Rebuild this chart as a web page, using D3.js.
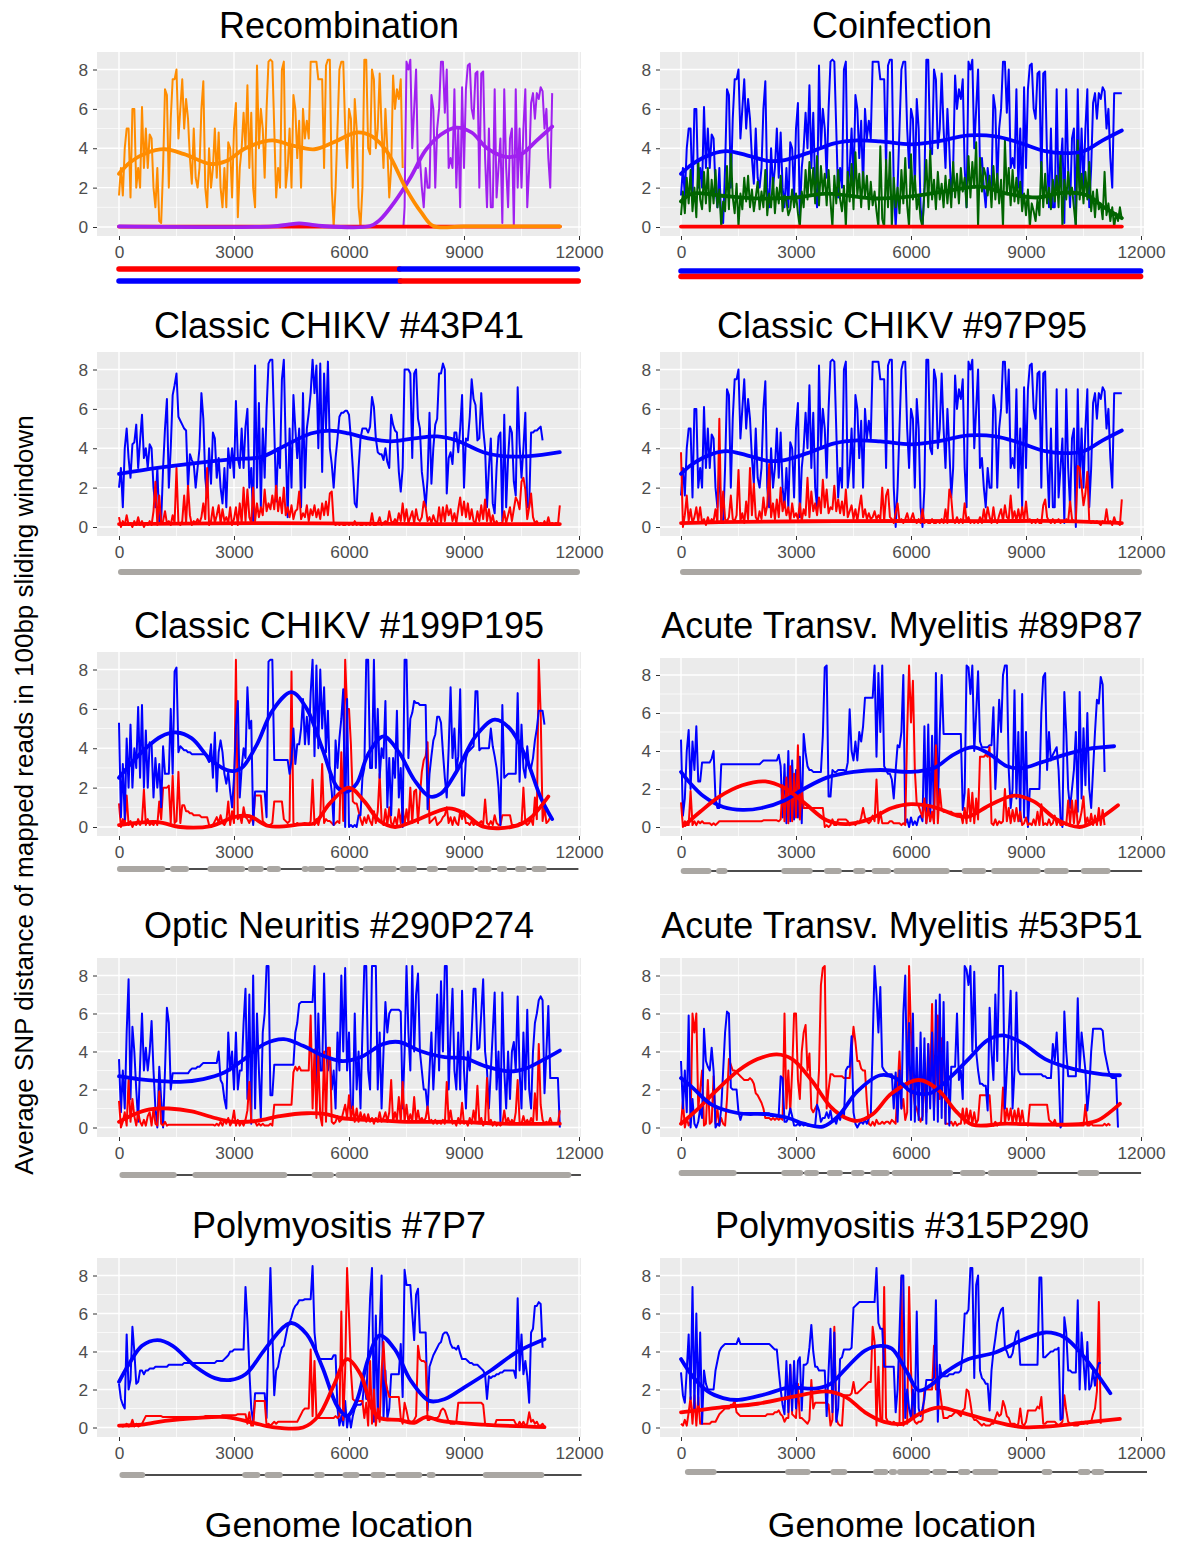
<!DOCTYPE html>
<html>
<head>
<meta charset="utf-8">
<script src="https://cdn.jsdelivr.net/npm/d3@7"></script>
<style>
body { margin: 0; background: #fff; }
text { font-family: "Liberation Sans", Arial, sans-serif; }
</style>
</head>
<body>
<div id="chart"></div>
<script>
// every trace: one row per 1000 bp of genome, one value per 50 bp
const refBlue = [
[1.6,3,1.6,4,5,5,1.5,6,6,2,3,2,6.1,3,5,3,4.7,4.5,2,1],
[3,.3,.2,3,7,6.7,2,5.5,7.5,7.5,8,4.5,6,7.5,5,6.5,5.5,3.5,2.2,5],
[2.5,2,3,6,7.4,2,1,4,2,3,5,2.5,4.8,2,1,3,1,4.3,4,1.5],
[5,6.3,.5,3,4,5.8,4,7.2,3,5.8,2,1,8.2,4,6,5,2.5,6,8.4,8.5],
[8.4,5,1.5,3,2,8,8.4,2,3,5,2,6.7,6,3.5,5.4,2,6,4.5,5.4,4.5],
[8.4,8.4,8.4,8.4,7.5,7.5,7.5,3,8.2,8.5,8.5,2,0,2,5,8,8.4,8.4,5,3],
[6,5.5,2,6.5,5,1,0,2,8.5,8.5,4,3.7,8,7.5,4,5,7.8,5,3,6],
[4,1.5,3,7.7,6,7,6.5,7.5,3,1,8.4,8,8.5,4,6,8,3,3.5,2,1],
[3,2,2,6.7,6,2,5,6,8.4,8.4,5.8,8,3,3.5,3,7,2,5,1,7.1],
[3,7,8.2,8.3,6,5.5,7.8,7.9,2,7.8,7.9,3.5,1,5,1,1,7,1.5,3,4.5],
[.2,7,3,1,4.5,5,0,7,2,5,2,5,7,1,3,6.3,6.8,5.5,6.8,6.5],
[7.1,6.9,5,6,3.5,2,6.8,6.8,6.8,6.8,6.8]
];
const coinfGreen = [
[.6,1.8,.7,2.5,1.2,2.9,.8,2,.5,3.4,1.4,.9,2.8,1.2,3,.8,2.4,1.2,2.9,1],
[1.9,0,1.3,.8,3.1,.9,3.9,1.5,.7,2.2,0,1.7,.9,2.5,1.3,2.6,1,1.9,.8,1.5],
[2.3,.9,1.8,1,2.9,.6,1.7,1,2.5,.7,2,1.2,2.6,.8,1.6,1.3,.6,.9,1.9,1],
[1.7,.7,0,1.8,1,2.9,1.4,3.3,1.6,3,1.2,3.6,1.1,3.1,1.8,2.7,1.1,2.9,1.3,0],
[2.6,1.2,2.9,1.4,.8,2.1,0,2.8,1.3,3.2,.9,3.8,1.6,2.7,1,2.8,1.5,2.6,.9,2.3],
[1.1,1.8,.8,0,4.1,.4,0,3.4,1,3.8,0,2.5,1,2,.7,2.9,1.2,3.5,1.1,0],
[3.7,1.4,2.6,.9,1.6,.4,0,1.8,3.4,1,3.9,1.4,2.4,.9,2.8,1.4,2.2,1,2.6,1.2],
[2.4,1,3.3,1.5,2.7,1.2,3,1.8,2.5,1,3.6,1.5,3.3,2,4.3,0,3.5,1.8,3,2.6],
[1.6,2.6,1,3.1,1.4,2.7,1.2,2.4,0,4.4,1.7,3,1.1,2.9,1.3,2.5,1.2,2.3,.8,1.7],
[.6,1.9,0,1.2,.8,.3,1.4,.6,3.3,1,2.7,1.2,2,.9,2.4,1.3,2.6,1,3.7,0],
[2.4,1.4,2.8,1.6,2,1,0,4.4,1.4,2.7,1.2,2.8,1.4,3.3,.8,1.8,.5,1.9,.9,1.2],
[.4,2.8,.6,1.2,.3,1,0,.7,.3,1,.4]
];
const blue43 = [
[2,3,1,4,5,3.5,2.5,4.2,4.3,5.2,3,4.4,5.7,3.5,4,3,4.2,4,2,1],
[3,.2,.3,3,5,6.5,2,4,6.7,7.2,7.8,5.6,5.4,5.2,5,4.9,2,3.7,3.4,3.2],
[2,3,4,6.8,5.5,2.5,1.5,4,2.2,4.8,4.5,2.5,3.5,2,1.2,3,1,4,3,4],
[2.5,6.4,3.5,3,5,3,5.1,6,2,3,.2,8.2,2,6.3,1,5,2.5,6,8.3,8.5],
[8.5,5,1.3,4,3,7.5,8.5,4,.5,5,2,6.7,5,3.5,5,1,6.8,2,5,5.8],
[6.8,8.5,6.8,8.2,4,8.3,2.8,7.8,5,8.4,4,3.2,2,3.5,4.5,5.6,5.8,5.8,5.9,5.9],
[5.7,4.5,3,1.2,1,3,4.5,5,5,5,4.8,5.1,6.6,6.1,4.5,3.8,3.7,3.7,3.4,4],
[3.3,3,5.7,5.2,4.9,4.8,2.8,1.8,3,8,8,8,7.8,3.5,7.8,8,5.5,5,2.8,2],
[1,2.5,5.8,2.2,4,5.2,5.5,7.8,7.8,8.3,8,1.7,3.5,3.8,3.2,4.8,4.8,3.8,5,6.7],
[2,4.5,4.4,5.6,7.5,6.5,6.2,4.4,4.5,6.8,5,4,1,3,4.5,1.2,.7,3,4.6,4.8],
[.3,5.7,1,3.5,5.1,4.8,2.3,1.6,7.1,4.2,2.5,4,5.8,1,1,4.8,4.8,4.9,4.9,5],
[5.1,4.4]
];
const red43 = [
[.5,0,.3,.1,.6,.1,.2,0,.3,.1,.5,.1,.3,0,.2,.1,.3,.1,.8,2.3],
[.1,1.6,.2,.3,.8,.2,.3,.1,.6,.2,3,.2,.1,.3,1.6,.2,2.1,.6,.1,.3],
[.2,.4,.2,.5,1.2,.4,3,.1,.3,1,.2,.6,1.1,.2,.9,.3,.5,.2,1,.1],
[.4,1,.1,1.2,.2,2,.3,1.9,.5,.2,2,.3,1.2,.5,1,.6,1.9,.8,1.2,.9],
[1.6,.9,2.1,.8,1.5,.7,2,.6,1,.5,1.1,.4,.8,.9,1.8,.4,.7,.5,1.1,.3],
[.9,.6,1.1,.5,.9,.4,1.2,.6,1.3,.6,1.7,1.8,.2,.1,.2,.1,.2,.1,.1,.2],
[.1,.2,.1,.3,.1,.2,.1,.1,.2,.1,.2,.1,.7,.1,.1,.2,.5,.1,.2,.3],
[.2,.8,.3,.2,.4,.2,.7,.3,1.2,.3,.9,.2,.5,.8,.2,.9,.4,.3,.5,1.3],
[1,.3,.5,.2,.6,.3,.2,1,.2,1,.3,1.1,.6,.9,.3,.7,.2,.9,1.5,.6],
[1.3,.5,1.2,.4,.9,.3,.2,.8,.3,1.1,.4,1.4,.3,.9,.2,.6,.1,.3,.1,.2],
[.2,.8,.2,.6,1,.3,.9,1.5,1.3,.9,2.3,2.5,1.9,.4,1,1.7,.5,.2,.3,.1],
[.2,.1,.3,.1,.5,.1,.2,.1,.2,.1,1.1]
];
const red97 = [
[3.8,0,.6,1.6,.3,.9,.2,.5,1,.3,1,.2,.4,.1,.5,.2,.4,.3,.9,.2],
[5.5,.2,1.8,.4,.3,.5,1.6,.4,.3,.6,2.9,.3,.7,.2,1.3,.4,3,.6,2.2,.5],
[.3,.8,.4,1.5,.6,1.1,3.2,.5,1.2,.4,1.4,.5,2,.8,1.3,.6,1,.3,1.2,.5],
[.7,.4,1.2,.3,.9,.6,2.5,.5,1.8,.8,1.2,.6,1.5,.7,2.4,1,1.9,.7,1,.9],
[2.1,.8,1.4,.7,1.3,.6,1.9,.5,.8,1.1,.4,.9,.3,1,1.6,.5,.9,.4,.7,.4],
[.5,.8,.4,.6,.4,2,.3,1.6,1.9,.5,.4,.2,.7,1.2,.3,.4,.2,.4,.7,.3],
[.4,.7,.3,.2,.4,.2,.9,.2,.3,.2,.2,.4,.2,.2,.3,.2,.4,.2,.9,.2],
[1.9,1.5,.3,.2,.5,.2,.4,.2,1.2,.3,.5,.2,.3,.2,.3,.2,.5,.2,.9,.3],
[1,.5,.2,1,.3,.2,.6,.9,.3,1.1,.5,.4,1.6,.4,.8,.3,.9,.3,1,.3],
[1.3,.3,.4,.2,.3,.2,.4,.2,.2,1.1,1.4,.5,.3,.2,.4,.2,.3,.4,.2,.3],
[.3,.4,.3,1.3,.4,.3,.3,3.1,3,2.1,1.1,1.7,2.8,.3,.2,.3,.2,.3,.2,.1],
[.3,.2,.9,.2,.3,.1,.5,.2,.2,.1,1.4]
];
const blue199 = [
[5.3,.5,3.2,.4,4.5,2,5.2,2,4,3,6.1,2.5,6.2,2,4.9,2,4.3,4.2,1.5,3.5],
[2,3.2,1,4.1,2.7,2.7,2.7,6,2.7,7.9,8.1,3.8,4.1,4,3.9,3.9,3.8,3.8,3.7,3.7],
[3.7,3.7,3.7,3.7,3.7,3.7,3.5,3.3,4.2,2.5,4.8,1.8,3.8,4.4,3.8,2.7,2.2,2.8,1.8,1],
[2.5,5.1,6.4,1.5,3,4,3.5,7.1,5,5.4,.1,1.8,1.8,1.8,1.8,1.8,1.8,.5,8.4,8.5],
[8.5,3.4,3.4,3.4,3.4,3.4,3.4,3.4,3.4,2.7,3.4,5,3.2,4.2,4.2,5,6.5,4.2,5.6,4.2],
[6.8,8.5,3.6,8.2,4,8,5,7.1,3.8,5.9,2.6,1.8,.1,4.4,3,4.5,5.5,7,0,6.5],
[0,.1,0,.1,0,.6,.6,2.5,3,8.5,8.5,3,3,8.5,3,6,2.5,4,3.5,6.4],
[1,3.5,.6,3.5,2.5,5.9,1.5,3,0,8.5,8.5,3.5,5.5,5.8,6.4,6.3,6.3,6.2,6.2,6.2],
[6.2,.9,2.7,3.6,4.4,4.7,5.6,5.6,5.3,3.8,2.5,1.5,4,7.1,3.5,5,2.8,3.6,7,1.6],
[1.6,3.5,3.8,3.9,4,4.1,6.9,6.9,3.9,4,4,4,4,4,5,4.1,3.6,3,2,.1],
[6.2,2.5,2.6,2.7,2.7,2.7,2.7,2.7,6.8,2.3,5.2,3,2.5,4.1,3,3,3.5,4.4,5,5.9],
[5.9,5.9,5.2]
];
const red199 = [
[1.2,0,.4,.1,1.6,.1,.3,0,.2,.1,.4,.1,.3,1.9,.1,.4,.1,.2,.1,.3],
[.1,1.3,.4,2,2,2,2.1,.2,2.6,.2,.3,2.8,.2,1.1,1.1,.8,.8,.7,.7,.6],
[.6,.6,.6,.5,.5,.5,.5,.1,0,.1,.3,.5,.2,.6,.2,.1,.3,1.3,.1,.8],
[.2,8.5,.4,.6,.2,1,.5,.4,.2,.5,.2,1.6,1.6,1.6,1.6,.3,.2,.1,.1,.1],
[.2,1.3,1.3,1.3,1.3,1.3,.4,.3,.2,.3,7.9,.2,.1,.2,.1,.1,.1,.1,.1,.1],
[.3,2.4,.1,.4,.1,.5,3.2,.2,.4,.3,.3,.2,.1,.2,.3,.2,3.8,.3,8.5,6],
[6,4.2,1.3,1.2,1.2,.8,.4,.1,.5,.2,.6,.3,.1,.8,.2,.8,2.7,.3,.1,.9],
[.1,1,.2,.1,.5,.1,.9,.2,1,.1,.9,.2,2,.2,1.8,1.9,.2,1.6,2.8,3.4],
[3.6,4.3,.2,.3,.4,.5,.1,.2,.3,.5,.6,1,.2,.5,.1,.5,.2,.1,.8,.4],
[.8,.2,.2,.1,.3,.1,.2,.1,.2,.3,.1,1.4,.2,.1,.3,.1,.6,.2,.1,.1],
[.6,.6,.6,.6,.6,.1,.1,.1,.1,.2,.1,2,.2,.1,.2,.4,.1,1.5,.4,8.5],
[5.8,.3,1,.2,.3,.5,.4]
];
const blue89 = [
[4.6,.6,1.5,4,5.1,2,4.5,3,5.3,2.4,2.4,3.4,3.4,3.4,3.4,3.4,3.6,4,1.5,1],
[1,3.3,3.3,3.3,3.3,3.3,3.3,3.3,3.3,3.3,3.3,3.3,3.3,3.3,3.3,3.3,3.3,3.3,3.3,3.3],
[3.3,3.3,3.4,3.5,3.5,3.5,3.5,3.5,3.5,3.5,3.5,3.8,3.2,.5,3.3,.2,4,.3,3.5,.4],
[3,.5,3.7,.2,4.9,3.9,3.2,3,3,2.9,2.9,2.9,2.9,2.9,4.8,8.4,8.5,1.6,1.6,3],
[2.9,2.9,3,3,3,3,2.9,3.4,6.2,4,3.5,4.5,3.5,5,4.5,5.3,6.8,6.8,6.8,6.8],
[6.8,8.5,3.7,8.1,5,8.5,3.2,3,2.8,2.8,2.5,1.5,3,4.3,4.2,5,8,.2,.4,0],
[.5,.1,.3,.1,.5,.6,.3,5.3,.2,5.4,.3,4.8,.2,8.1,1,4.9,8,4.9,4.9,4.9],
[4.9,4.9,4.9,4.9,4.9,4.9,4.9,.9,1.8,8.5,8.4,7,8.5,4,6,8.2,4.5,4.2,4.2,4.2],
[4.2,4.3,4.3,6.3,2,4,6.7,5,8,8.5,8.5,3,1,2,7.2,1.5,5,.3,7,.5],
[5,0,2,2,2,2,2,2,6,7.9,8.1,3,5,3.5,3.8,4,4.2,3,.5,0],
[7.1,5,2,1,2,3,5,.8,7.1,1.5,5.2,2.2,6,2,1,3,5,6.7,6.5,7.9],
[7.5,2.9]
];
const red89 = [
[1.3,0,.3,.1,.1,1.9,.1,.3,.1,.3,.2,.3,.2,.2,.2,.2,.1,.2,.1,.2],
[.3,.3,.3,.3,.3,.3,.3,.3,.3,.3,.3,.3,.3,.3,.3,.3,.3,.3,.3,.3],
[.3,.3,.3,.35,.35,.35,.35,.35,.35,.35,.35,.3,.4,2.2,.3,2.6,.2,3.2,.3,2.8],
[.5,4.3,.4,2,1,1,1,1,1,1,1,1,1,1,1,0,.1,0,.1,.4],
[.1,.1,.4,.4,.4,.4,.4,.3,.1,.2,.2,.1,.3,.2,.5,1,.5,.3,.2,.3],
[.6,.3,2.5,.2,.8,.2,.2,.2,.2,.3,.3,.2,.2,.2,.2,.1,.2,.1,5,8.5],
[5.5,7.7,3,1.2,1.1,.8,.5,1.5,.2,1,.3,.8,.2,4.3,.2,2,.9,.8,.8,.8],
[.8,.8,.7,.7,.7,.7,.7,.2,1,.2,2,.3,1.8,.2,1.5,.4,3.7,3.7,3.7,3.8],
[3.7,4.2,.2,.1,.4,.1,.3,.2,.3,2,.3,1,.2,.9,.3,1,.3,.8,.1,.2],
[.5,.1,.2,.1,.4,.1,.8,.1,1.2,.1,.2,.1,.4,.1,.2,.6,.1,.4,.1,.1],
[.2,.1,1.4,.2,1.4,.2,1.4,.1,.3,.8,1.6,.1,.5,.1,.7,.1,.6,.1,1,.1],
[.9,.1]
];
const blue290 = [
[3.6,.8,3,1,5,7.8,1.5,5.3,4,2,.3,3.3,6,3,4.2,3,4,5.6,3,1],
[0,3.2,1.5,0,3,6.3,5.5,2,2.85,2.85,2.85,2.85,2.85,2.85,2.85,2.85,2.85,3,3.1,3.1],
[3.1,3.2,3.2,3.3,3.4,3.4,3.4,3.4,3.4,3.4,3.4,3.4,4,2.5,2.3,1.5,1,5,3,4],
[2,5,2,3,3,5.5,7.3,1.5,7,.2,8,1,6,3,.5,5,6,8.5,8.5,1.7],
[1.7,3.3,3.3,3.3,3.3,3.3,3.3,3.3,3.3,3.3,3.3,3.3,5,5.5,6.5,6.6,6.6,6.6,6.6,6.6],
[6.6,6.6,8.5,2,6,3,3,8.1,4,3,4,2,3,1,5,3,8,4,8.4,3],
[5,1,1,6,2,4,1,5,8.5,8.5,3,2,8.5,8.5,8.5,2,5,1,4,6.6],
[5,6,6.2,6.2,6.2,6.2,6.2,6.1,1,4,8.5,5,3,8.5,4,7,8.1,4,3,2],
[2,.9,3,5,2,4,7,3,7.7,4,8.5,8.5,2,5,7.3,3,2,5,2,7.2],
[3,1,4,3,5,7.3,7.3,4.1,4.2,6,7.8,4,3,1,3,5,7.1,2,4,.3],
[7.1,3,1,4,1.5,4,4.5,3,6.9,3,1,5,2,6.2,2,1,4,5.5,6,6.7],
[6.9,6.7,1.8,4,6.4,2.6,2.6,2.6,2.6,2.6,0]
];
const red290 = [
[1.4,0,.3,.8,.1,2.5,.3,1.5,.6,.1,.8,.3,.1,.4,.1,.6,.8,.1,1,.2],
[.1,1.9,.2,.1,.3,.1,.15,.15,.15,.15,.15,.15,.15,.15,.15,.15,.15,.15,.15,.15],
[.15,.15,.15,.15,.15,.15,.15,.15,.15,.15,.1,.2,.1,.3,.1,.4,.2,.5,.1,.3],
[.9,.1,.4,.1,.3,.1,.4,.9,2.4,.3,.3,.3,.1,.2,.1,.2,.1,.1,.1,.2],
[.1,1.2,1.2,1.2,1.2,1.2,1.2,1.2,1.2,1.2,1.2,2.9,3.2,3,3.2,3,3,3,3,3],
[5.9,1,4.1,.5,3.8,.6,.1,4,.3,4.2,4.2,.3,.2,.3,.6,.3,.4,.8,1.2,.5],
[1.7,.4,1.1,.3,1,.3,.8,.4,.7,.3,.7,.3,.5,.2,.5,.3,.8,.3,.5,.8],
[.3,.8,2.5,.3,.8,.4,1.6,.3,2.4,.3,1.2,.3,.7,.3,1.6,.3,.9,.3,.5,.3],
[.5,1.1,.3,.4,.2,.4,.2,.3,.2,.4,.2,2.4,.3,.9,.2,.3,.1,.5,.2,1.3],
[.2,.3,.1,.5,.2,.9,.3,2.2,.3,.5,.1,.3,2.6,.2,.4,.1,.3,.1,.2,.1],
[.2,.9,.2,.5,.2,.4,.2,.8,2.5,.3,.2,.6,.2,.4,.2,.5,.2,1.8,.4,4.4],
[1.2,.4,.2,.3,.2,.5,.2,.2,.2,.2,.9]
];
const blue53 = [
[3.5,1,3,.8,5.9,0,1.5,.2,0,.3,1,.5,5.2,3.5,3.2,3,4.2,3,0,.2],
[.1,1,3,5,6.1,6,2.1,2,2,2,.8,.4,.75,.75,.75,.75,.75,.75,.75,.75],
[.75,.75,.75,.75,.75,.75,.75,.6,.6,.6,.6,.7,2.7,2.6,.3,.3,.5,1,.6,.1],
[.1,.2,.1,.2,.1,.2,.1,.1,.1,.1,.1,1.2,.9,.3,.5,.5,.8,.5,.9,.3],
[.4,.2,.6,.4,.8,.5,3,3.2,3.2,4.8,.8,.2,0,.2,.3,.2,.4,.2,.5,.6],
[4.5,8.5,7,5,7.4,3.2,3,2.9,2.8,2.8,2.8,1,2.9,.3,3,1,6,8,2,5.5],
[.4,6,.3,4.2,.4,5,.4,4.7,.2,4.4,1,5,.4,6.7,.3,7,.5,6.6,.2,4.5],
[.1,3.2,3.2,3.2,6,2.5,3,1.5,8.5,8.3,7.5,8.5,4,8.2,4,3,2.3,2.3,2.2,2.2],
[.9,6.3,4,2.5,7,3.5,8.5,8.5,8.5,1,3,5,7.2,1,3,7.1,3,2.8,2.8,2.8],
[2.8,2.8,2.8,2.8,2.8,2.8,2.8,2.8,2.8,2.7,2.7,2.6,2.6,2.6,4.4,3.5,5,3,0,.2],
[6.1,4,2.7,2.7,2.7,2.7,2.7,6.8,3,5,4,3,.9,2,4,5.2,5.2,5.2,5.2,5.2],
[5.1,4,3.5,3,2.7,2.6,2.6,2.6,0]
];
const red53 = [
[.2,1.4,0,.5,.1,.3,6,5,6,1,2,3,.1,.2,2.5,.2,.3,2.7,.2,1],
[.1,.5,.2,.1,1.5,3.6,3.3,3,3,2.9,2.8,2.7,2.6,2.5,2.5,2.5,2.6,2.5,2.3,1.8],
[1.7,1.5,1.3,1,.5,.5,.5,.4,.5,.4,.5,.4,.5,.4,6,1,3,.8,3,6],
[6,2.5,1.5,4,5,5.4,3,3.9,1,.8,1,1.2,3,7.5,8.4,8.5,1,2,2.8,2.8],
[2.7,2.7,2.7,2.7,2.7,2.6,2.6,2.6,2.6,4,5.3,4.5,3.5,3.5,3.1,3,3,1.3,.2,.1],
[.3,.1,.4,.2,.2,.3,.2,.3,.3,.2,.4,.3,.2,2,4,1,1.5,.4,.8,8.5],
[5,2,1.2,1,.6,.3,.6,3,.8,4.4,2,6.5,1,3,5.9,1.5,4.7,4.7,.2,.2],
[.2,.3,.1,.3,.1,.2,.2,1,.2,1,.3,.9,.2,.8,.2,.4,1.7,1.7,1.7,1.7],
[1.7,1.7,.2,.1,.3,.1,.2,.3,2.1,.2,1,.4,1,.2,.9,.3,1,.2,.9,.2],
[.2,.1,1.2,1.2,1.2,1.2,1.2,1.2,1.2,1.2,1.2,1.2,.4,.3,.2,.4,.1,.1,.1,.1],
[.1,.1,.1,.1,.1,.1,.1,.1,.1,.1,.1,1.2,.1,.1,.2,.1,.1,.1,.1,.1],
[.1,.2,.1,.2,.1]
];
const blue7 = [
[2.3,1.5,1.2,1,4.9,2,2.5,5.3,4,2.3,2.4,3,3,2.8,3,3,3.1,3.1,3.1,3.2],
[3.2,3.2,3.2,3.2,3.2,3.2,3.3,3.3,3.3,3.3,3.3,3.3,3.3,3.3,3.4,3.4,3.4,3.4,3.4,3.4],
[3.4,3.4,3.4,3.4,3.4,3.4,3.4,3.4,3.4,3.4,3.4,3.5,3.5,3.5,3.5,3.6,3.7,3.8,4,4],
[4.1,4.1,4.1,4.1,4.1,4.1,7.4,5.6,3,1,.3,1.8,1.8,1.8,1.8,1.8,1.8,.5,5,8.4],
[5,1.7,3,3.2,3.8,4.2,4.3,4.8,5.3,5.5,5.8,6.2,6.4,6.5,6.7,6.7,6.7,6.75,6.75,6.75],
[6.75,8.5,5,4,3.6,3.6,3.6,3.6,3.6,3.6,3.6,3.6,3.8,3.8,1,.1,.6,.1,1.4,0],
[.7,0,.6,1,1.2,1.2,1.2,1.3,2.5,1.5,4,6.8,8.4,.3,5.9,.5,5,8,.5,3],
[.5,1,2.8,2.8,2.8,2.8,2.8,4.4,1.6,8.3,7.5,7.5,7.5,6,4.6,7,7.3,5,5,5],
[5,.9,3.2,3.5,3.8,4,4.2,4.4,4.5,4.9,5,5,4.8,4.4,4.2,4.2,4.1,4.3,3.9,3.6],
[3.6,3.6,3.5,3.4,3.4,3.3,3.3,3.3,3.2,3.1,3,2.8,1.5,2.7,2.6,2.7,2.7,2.8,2.8,2.9],
[2.9,3,3,3,3,3,3,2.6,6.8,3,4.9,2.8,3.5,2.7,1.3,5,5.2,6.4,6.4,6.6],
[6.5,4.2]
];
const red7 = [
[.1,.1,.05,.1,.2,.05,.1,.4,.05,.2,.05,.1,.2,.4,.6,.6,.6,.6,.6,.6],
[.6,.6,.6,.55,.55,.55,.55,.55,.55,.55,.55,.55,.55,.55,.55,.55,.55,.55,.55,.55],
[.55,.55,.55,.55,.55,.6,.6,.6,.6,.6,.6,.6,.6,.6,.65,.65,.65,.65,.65,.65],
[.65,.65,.7,.7,.7,.7,.7,.2,.8,.1,.1,1.4,1.4,1.4,1.4,1.4,1.4,.1,.2,.1],
[.2,.3,.2,.3,.3,.3,.3,.3,.3,.3,.3,.3,.3,.3,.5,.7,.9,1,1,1],
[4.1,.6,3.5,.6,.5,.5,.5,.5,.5,.5,.5,.5,.5,.6,.5,.6,6.1,.4,3,8.4],
[5.9,3,1.5,1.4,1.4,1.4,1.4,1.4,.5,1.3,.1,3.5,.2,2,.1,1,.3,3,4.5,2.5],
[2,1.6,1.6,1.6,1.6,1.6,1.6,.5,.2,1.3,.9,.4,.3,.3,.4,.6,4.3,3.6,3.5,3.5],
[3.4,.4,.4,.5,.5,.5,.5,.6,.9,1,.9,.6,.3,.2,.2,.2,.3,1.3,1.3,1.3],
[1.3,1.3,1.3,1.3,1.3,1.3,1.3,1.3,1.3,1.3,1.2,.2,.1,.1,.1,.1,.1,.4,.4,.4],
[.4,.4,.4,.4,.4,.4,.4,.2,.1,.3,.1,.3,.1,.2,.8,.3,.4,.2,.3,.1],
[.1,.2,.05]
];
const blue315 = [
[2.9,1.7,1.3,3,4.9,1.5,7.4,1,6,1.2,5,.2,3,2.3,2,2,2,2,3,3.5],
[4,4.2,4.3,4.4,4.4,4.4,4.4,4.4,4.4,4.4,4.7,4.4,4.4,4.4,4.4,4.4,4.4,4.4,4.4,4.4],
[4.4,4.4,4.4,4.4,4.4,4.4,4.4,4.3,4.2,4.1,4.1,3,2,1.2,.7,3.5,.8,3.3,.9,3.5],
[1,3.5,3.7,.9,3.3,3.3,3.4,4.2,5.4,4,3.2,3.2,3,3,3,3,.6,3,5.2,.8],
[5,.3,1,3.6,3.7,4.1,4.1,4.1,4.1,4.2,6.3,6.4,6.5,6.6,6.6,6.6,6.6,6.6,6.6,6.6],
[6.6,6.6,8.4,5.5,5.2,5.2,3.2,3.2,3.2,3.2,3.2,3.2,.8,2,5,8,8,.5,2,1],
[.5,2,.6,6.1,1,.6,1,1.5,2.5,2.5,2.5,2.5,2.6,6.7,.3,3.3,2.7,2.7,2.7,2.7],
[2.8,2.8,2.8,2.9,2.9,2.9,3,4,6,6,6.2,8.4,8.4,2.6,7.5,8,3,2.6,2.5,2.3],
[2.3,.9,3,4,4.7,5.5,5.9,6.2,6.3,4.2,4,3.7,3.7,3.9,4.5,5,5.1,3.3,3.3,3.3],
[3.3,3.3,3.3,3.3,3.3,3.3,3.3,7.9,7.9,3.7,3.7,3.8,3.9,4,4,4.1,4.1,4.2,.4,.5],
[5.8,5,3,3,2.9,2.9,2.9,6.7,2,5,3.5,2,4.5,2,2.2,3,2.2,3,3.4,3.4]
];
const red315 = [
[.2,.1,.4,.1,.8,1.6,.2,1.7,.1,1.6,.2,.2,.2,.2,.2,.2,.3,.3,.3,.5],
[.7,.8,.9,1,1,1,1.2,1.2,1.4,.8,.7,.6,.6,.6,.6,.6,.6,.6,.6,.6],
[.6,.6,.6,.6,.6,.7,.7,.7,.7,.8,.8,.9,.7,.6,.3,.5,.5,3.3,.7,.6],
[.5,2.3,.5,.5,.4,.3,.2,.4,2.5,1,1.3,1.3,1.3,1.3,1.3,1.3,1.3,1.2,.1,.4],
[5.3,.5,.2,.1,.1,1.7,1.7,1.7,1.7,1.8,2.4,1.8,1.8,1.9,2,2.1,2.2,2.3,2.4,2.4],
[5.3,4.5,.1,3.2,.5,.3,7.4,.5,.3,.3,.2,.3,.2,.1,.2,7.9,.1,.3,.2,7.4],
[3,.6,.3,.2,.3,.3,.4,2,2,2,2,2,4.3,2,2,2,1.2,.5,.5,.5],
[.6,.6,.7,.8,.8,.7,.6,.9,1,2,1.9,1.3,.6,.4,.4,.3,.2,.1,.2,.1],
[.1,.1,.2,.2,.5,.8,.6,.7,1.4,1.1,.6,.5,.2,.2,.2,.1,.2,1,.2,.1],
[.3,.9,.9,.9,.9,.9,1.1,1,1.6,.2,.2,.3,.3,.3,.3,.3,.2,.1,.2,.3],
[1.7,.9,.3,.2,.2,.1,.1,.1,.2,.3,.2,.3,.2,.3,.3,.7,1,1.9,6.6,.2]
];

// hand-read smooth curves, [genome position, value]
const fitOrange = [[0,2.7],[300,3.3],[700,3.75],[1200,3.95],[1700,3.7],[2400,3.2],[2800,3.35],[3300,4],[4000,4.4],[4500,4.15],[5100,3.95],[5600,4.3],[6200,4.8],[6600,4.6],[7000,3.8],[7500,1.9],[7900,.7],[8200,.05],[9000,.03],[11500,.03]];
const fitPurple = [[0,.03],[4000,.03],[4400,.12],[4700,.18],[5000,.12],[5300,.05],[6550,.05],[6800,.35],[7200,1.3],[7600,2.5],[8000,3.9],[8400,4.7],[8800,5.05],[9200,4.8],[9600,4],[10000,3.6],[10200,3.55],[10500,3.7],[10900,4.4],[11300,5.1]];
const fitZero = [[0,.02],[11500,.02]];
const fitBlueRef = [[0,2.7],[300,3.2],[800,3.7],[1200,3.85],[1700,3.65],[2300,3.35],[2700,3.4],[3300,3.75],[4000,4.25],[4600,4.4],[5200,4.35],[6000,4.2],[6700,4.35],[7500,4.65],[8200,4.6],[8800,4.3],[9500,3.85],[10000,3.75],[10500,3.85],[11000,4.4],[11500,4.9]];
const fitGreen = [[0,1.3],[300,1.7],[1000,1.6],[2000,1.45],[3000,1.5],[3800,1.7],[5000,1.45],[6000,1.55],[7000,1.85],[7800,2.05],[8500,1.7],[9300,1.5],[10000,1.75],[10600,1.6],[11000,1.05],[11500,.45]];
const fitBlue43 = [[0,2.7],[1000,3],[2000,3.25],[3000,3.45],[3700,3.55],[4300,4.1],[5000,4.75],[5500,4.9],[6000,4.75],[6500,4.5],[7100,4.35],[7700,4.5],[8300,4.6],[8800,4.4],[9500,3.8],[10000,3.6],[10700,3.6],[11500,3.8]];
const fitRed43 = [[0,.15],[4000,.2],[8000,.15],[11500,.15]];
const fitRed97 = [[0,.2],[1000,.25],[4000,.3],[8000,.3],[10000,.3],[11500,.2]];
const fitBlue199 = [[0,2.5],[300,3.2],[700,4],[1100,4.6],[1500,4.8],[1900,4.5],[2400,3.4],[2900,2.85],[3200,3],[3600,4.2],[4000,5.9],[4500,6.85],[4900,6],[5300,4],[5700,2],[5950,1.8],[6200,2.2],[6500,3.7],[6900,4.6],[7300,3.8],[7700,2.4],[8100,1.55],[8400,1.7],[8800,2.8],[9300,4.6],[9800,5.45],[10200,5],[10600,3.6],[11000,1.5],[11300,.4]];
const fitRed199 = [[0,.1],[1000,.25],[1600,0],[2400,.05],[3000,.5],[3400,.55],[3900,.05],[4800,.15],[5100,.2],[5500,1.2],[6000,2],[6400,1.3],[6800,.3],[7200,0],[7700,.3],[8600,.95],[9000,.7],[9500,.02],[10300,.03],[10700,.4],[11200,1.55]];
const fitBlue89 = [[0,2.9],[200,2.4],[600,1.6],[1100,1.05],[1600,.9],[2100,1],[2700,1.4],[3200,2],[3800,2.6],[4500,2.9],[5200,3],[6000,2.9],[6600,3.1],[7100,3.8],[7600,4.2],[8000,3.9],[8500,3.2],[8900,3.1],[9400,3.4],[10000,3.8],[10600,4.1],[11300,4.25]];
const fitRed89 = [[100,.1],[500,.8],[1000,1.6],[1600,2.2],[2200,2.4],[2700,2.05],[3200,1.3],[3800,.35],[4300,.15],[4900,.4],[5500,1],[6000,1.2],[6600,1.05],[7200,.6],[7500,.55],[8100,1.2],[8700,1.65],[9200,1.35],[9800,.4],[10400,0],[10800,.3],[11400,1.15]];
const fitBlue290 = [[0,2.7],[500,2.55],[1000,2.45],[1600,2.4],[2200,2.55],[2700,2.85],[3200,3.5],[3800,4.4],[4300,4.65],[4800,4.3],[5300,3.8],[5800,3.5],[6300,3.7],[6900,4.4],[7300,4.5],[7900,4],[8500,3.7],[9000,3.65],[9600,3.2],[10200,2.95],[10600,3.1],[11100,3.6],[11500,4.05]];
const fitRed290 = [[0,.3],[400,.7],[800,.95],[1300,1],[1900,.85],[2500,.5],[3000,.3],[3600,.35],[4200,.6],[4900,.75],[5400,.7],[5800,.5],[6500,.4],[7500,.3],[8800,.3],[10000,.2],[11500,.2]];
const fitBlue53 = [[0,2.6],[300,2.1],[800,1.2],[1500,.75],[2200,.7],[2800,.5],[3200,.2],[3700,.05],[4100,.6],[4600,1.9],[5200,2.75],[5600,2.6],[6000,1.9],[6500,1.8],[7000,2.6],[7500,3.6],[8000,4.6],[8400,4.85],[8900,4.45],[9500,3.6],[10200,3.1],[11000,2.8],[11450,2.75]];
const fitRed53 = [[0,.2],[400,.9],[900,1.9],[1500,3],[2000,3.6],[2500,3.85],[2900,3.6],[3400,2.5],[3900,1.1],[4300,.5],[4600,.35],[5000,.7],[5500,1.8],[6200,2.5],[6700,2],[7200,.8],[7600,.15],[8500,.2],[9500,.15],[10500,.2],[10900,.4],[11450,1.25]];
const fitBlue7 = [[0,2.4],[250,3.3],[600,4.3],[1000,4.6],[1400,4.3],[2000,3.2],[2500,2.6],[2900,2.5],[3300,2.8],[3800,4.1],[4300,5.3],[4500,5.5],[4900,4.9],[5300,3.2],[5700,1.1],[5950,.6],[6200,1.4],[6500,3.6],[6800,4.85],[7200,4.1],[7600,2.5],[8100,1.4],[8500,1.5],[9000,2.1],[9700,3],[10400,4],[11100,4.65]];
const fitRed7 = [[0,.1],[600,.15],[1200,.35],[2000,.5],[2800,.55],[3500,.25],[4000,.02],[4800,0],[5200,.6],[5600,2.2],[5950,3.6],[6300,2.8],[6600,1],[6800,.5],[7300,.4],[7700,.25],[8000,.55],[8400,.35],[9500,.15],[11100,.02]];
const fitBlue315 = [[0,3.6],[300,2.7],[700,1.9],[1100,1.55],[1500,1.45],[2200,1.75],[2800,2.1],[3500,2.05],[3900,2.3],[4300,3.1],[4800,4.05],[5200,4.3],[5500,4.15],[5900,2.9],[6200,1.95],[6500,2.2],[6900,2.9],[7500,3.6],[8200,3.95],[8900,4.6],[9500,5],[10000,4.75],[10500,3.75],[11200,1.8]];
const fitRed315 = [[0,.8],[1000,1.05],[2000,1.25],[3000,1.65],[3800,1.9],[4300,1.6],[4800,.8],[5300,.3],[5800,.2],[6200,.7],[6700,1.05],[7200,.85],[8000,.4],[8900,.02],[9500,.05],[10500,.25],[11450,.45]];

// genome tracks, segment start/end in genome position
const trackRecombTop = [[0,7320,"#ff0000"],[7320,11960,"#0000ff"]];
const trackRecombBottom = [[0,7340,"#0000ff"],[7340,11980,"#ff0000"]];
const trackCoinfTop = [[0,11990,"#0000ff"]];
const trackCoinfBottom = [[0,11990,"#ff0000"]];
const segsFull = [[0,12000]];
const segs199 = [[-27,1189],[1354,1802],[2333,3266],[3385,3751],[3879,4199],[4822,4895],[4941,5352],[5645,6258],[6386,7219],[7338,7749],[8051,8298],[8573,9259],[9369,9698],[9881,10101],[10357,10613],[10787,11134]];
const segs89 = [[18,768],[941,1188],[2642,3410],[3757,4168],[4516,4790],[5000,5457],[5567,6984],[7349,7934],[8117,9360],[9497,10091],[10457,11179]];
const segs290 = [[37,1482],[1940,4364],[5050,5581],[5673,11775]];
const segs53 = [[-37,1426],[2642,3163],[3236,3574],[3830,4196],[4461,4762],[4963,5420],[5521,7075],[7303,7916],[8026,9287],[10366,10886]];
const segs7 = [[37,659],[3239,3660],[3824,4245],[5105,5343],[5855,6249],[6587,6944],[7228,7886],[8051,8234],[9515,11070]];
const segs315 = [[128,905],[2742,3355],[3921,4314],[5037,5384],[5448,5612],[5658,6481],[6581,6919],[7249,7523],[7623,8263],[9433,9662],[10375,10658],[10731,11024]];

const xTicks = [0,3000,6000,9000,12000];
const xMinor = [1500,4500,7500,10500];
const yTicks = [0,2,4,6,8];
const yMinor = [1,3,5,7];

const orange = "#ff8c00", purple = "#a020f0", green = "#006400", red = "#ff0000", blue = "#0000ff", grey = "#aaa7a3";

const trace = rows => rows.flatMap((r, i) => r.map((v, j) => [i * 1000 + j * 50, v]));
const refPts = trace(refBlue);
const orangePts = refPts.filter(d => d[0] <= 7400);
const purplePts = [[7420,0]].concat(refPts.filter(d => d[0] >= 7450 && d[0] <= 11300));

// layout of the two columns and five rows
const columns = [{left:97, right:581, x0:119, x12:579},{left:660, right:1144, x0:681, x12:1141}];
const rows = [
  {top:52, bottom:236, y8:69.5, y0:227, title:38},
  {top:352, bottom:536, y8:369.5, y0:527, title:338},
  {top:652, bottom:836, y8:669.5, y0:827, title:638},
  {top:958, bottom:1137, y8:975.5, y0:1127.5, title:938},
  {top:1258, bottom:1437, y8:1275.5, y0:1427.5, title:1238}
];

const panels = [
 {col:0,row:0,title:"Recombination",thin:[[orangePts,orange],[purplePts,purple]],fit:[[fitZero,red],[fitPurple,purple],[fitOrange,orange]],
  bars:[[269,trackRecombTop],[281,trackRecombBottom]]},
 {col:1,row:0,title:"Coinfection",thin:[[refPts,blue],[trace(coinfGreen),green]],fit:[[fitBlueRef,blue],[fitGreen,green],[fitZero,red]],
  bars:[[271,trackCoinfTop],[276.5,trackCoinfBottom]]},
 {col:0,row:1,title:"Classic CHIKV #43P41",thin:[[trace(blue43),blue],[trace(red43),red]],fit:[[fitRed43,red],[fitBlue43,blue]],
  segs:segsFull,trackY:572,lineEnd:12000},
 {col:1,row:1,title:"Classic CHIKV #97P95",thin:[[refPts,blue],[trace(red97),red]],fit:[[fitRed97,red],[fitBlueRef,blue]],
  segs:segsFull,trackY:572,lineEnd:12000},
 {col:0,row:2,title:"Classic CHIKV #199P195",thin:[[trace(red199),red],[trace(blue199),blue]],fit:[[fitBlue199,blue],[fitRed199,red]],
  segs:segs199,trackY:869,lineEnd:11985},
 {col:1,row:2,title:"Acute Transv. Myelitis #89P87",top:658,y8:675,y0:827,thin:[[trace(blue89),blue],[trace(red89),red]],fit:[[fitBlue89,blue],[fitRed89,red]],
  segs:segs89,trackY:871,lineEnd:12029},
 {col:0,row:3,title:"Optic Neuritis #290P274",thin:[[trace(blue290),blue],[trace(red290),red]],fit:[[fitRed290,red],[fitBlue290,blue]],
  segs:segs290,trackY:1175,lineEnd:12050},
 {col:1,row:3,title:"Acute Transv. Myelitis #53P51",thin:[[trace(red53),red],[trace(blue53),blue]],fit:[[fitRed53,red],[fitBlue53,blue]],
  segs:segs53,trackY:1173,lineEnd:12002},
 {col:0,row:4,title:"Polymyositis #7P7",thin:[[trace(blue7),blue],[trace(red7),red]],fit:[[fitBlue7,blue],[fitRed7,red]],
  segs:segs7,trackY:1475,lineEnd:12068},
 {col:1,row:4,title:"Polymyositis #315P290",thin:[[trace(red315),red],[trace(blue315),blue]],fit:[[fitBlue315,blue],[fitRed315,red]],
  segs:segs315,trackY:1472,lineEnd:12157}
];

const svg = d3.select("#chart").append("svg").attr("width",1183).attr("height",1544).style("display","block");

panels.forEach(p => {
  const c = columns[p.col], r = rows[p.row];
  const top = p.top || r.top;
  const y8 = p.y8 || r.y8, y0 = p.y0 || r.y0;
  const xScale = d3.scaleLinear().domain([0,12000]).range([c.x0,c.x12]);
  const yScale = d3.scaleLinear().domain([0,8]).range([y0,y8]);

  const g = svg.append("g");
  g.append("rect").attr("x",c.left).attr("y",top).attr("width",c.right-c.left).attr("height",r.bottom-top).attr("fill","#ebebeb");

  //grid lines, minor first
  g.selectAll(".ym").data(yMinor).join("line").attr("x1",c.left).attr("x2",c.right).attr("y1",d=>yScale(d)).attr("y2",d=>yScale(d)).attr("stroke","#fff").attr("stroke-width",.7);
  g.selectAll(".xm").data(xMinor).join("line").attr("y1",top).attr("y2",r.bottom).attr("x1",d=>xScale(d)).attr("x2",d=>xScale(d)).attr("stroke","#fff").attr("stroke-width",.7);
  g.selectAll(".yM").data(yTicks).join("line").attr("x1",c.left).attr("x2",c.right).attr("y1",d=>yScale(d)).attr("y2",d=>yScale(d)).attr("stroke","#fff").attr("stroke-width",1.4);
  g.selectAll(".xM").data(xTicks).join("line").attr("y1",top).attr("y2",r.bottom).attr("x1",d=>xScale(d)).attr("x2",d=>xScale(d)).attr("stroke","#fff").attr("stroke-width",1.4);

  const line = d3.line().x(d=>xScale(d[0])).y(d=>yScale(d[1]));
  const smooth = d3.line().x(d=>xScale(d[0])).y(d=>yScale(d[1])).curve(d3.curveCatmullRom.alpha(.5));

  p.thin.forEach(([pts,col]) => {
    g.append("path").datum(pts).attr("d",line).attr("fill","none").attr("stroke",col).attr("stroke-width",2).attr("stroke-linejoin","round");
  });
  p.fit.forEach(([pts,col]) => {
    g.append("path").datum(pts).attr("d",smooth).attr("fill","none").attr("stroke",col).attr("stroke-width",3.8).attr("stroke-linecap","round");
  });

  //axes
  const bottomAxis = d3.axisBottom(xScale).tickValues(xTicks).tickSize(4).tickPadding(6).tickFormat(d3.format("d"));
  const leftAxis = d3.axisLeft(yScale).tickValues(yTicks).tickSize(4).tickPadding(5);
  const ax = g.append("g").attr("transform",`translate(0,${r.bottom})`).call(bottomAxis);
  const ay = g.append("g").attr("transform",`translate(${c.left},0)`).call(leftAxis);
  [ax,ay].forEach(a => {
    a.select(".domain").remove();
    a.selectAll("text").attr("fill","#4d4d4d").style("font-size","17.3px");
    a.selectAll("line").attr("stroke","#333");
  });

  //title
  g.append("text").text(p.title).attr("x",(c.left+c.right)/2).attr("y",r.title).attr("text-anchor","middle").attr("fill","#000").style("font-size","36px");

  //genome tracks
  if (p.bars) {
    p.bars.forEach(([yy,segs]) => {
      g.selectAll(null).data(segs).join("line")
        .attr("x1",d=>xScale(d[0])).attr("x2",d=>xScale(d[1])).attr("y1",yy).attr("y2",yy)
        .attr("stroke",d=>d[2]).attr("stroke-width",5.5).attr("stroke-linecap","round");
    });
  } else {
    g.append("line").attr("x1",xScale(p.segs[0][0])).attr("x2",xScale(p.lineEnd)).attr("y1",p.trackY).attr("y2",p.trackY).attr("stroke","#111").attr("stroke-width",1.3);
    g.selectAll(null).data(p.segs).join("line")
      .attr("x1",d=>xScale(d[0])+2).attr("x2",d=>xScale(d[1])-2).attr("y1",p.trackY).attr("y2",p.trackY)
      .attr("stroke",grey).attr("stroke-width",6).attr("stroke-linecap","round");
  }
});

svg.append("text").text("Average SNP distance of mapped reads in 100bp sliding windown")
  .attr("transform","translate(33,795) rotate(-90)").attr("text-anchor","middle").attr("fill","#000").style("font-size","26px");
svg.selectAll(null).data(columns).join("text").text("Genome location")
  .attr("x",d=>(d.left+d.right)/2).attr("y",1536.5).attr("text-anchor","middle").attr("fill","#000").style("font-size","35.5px");
</script>
</body>
</html>
